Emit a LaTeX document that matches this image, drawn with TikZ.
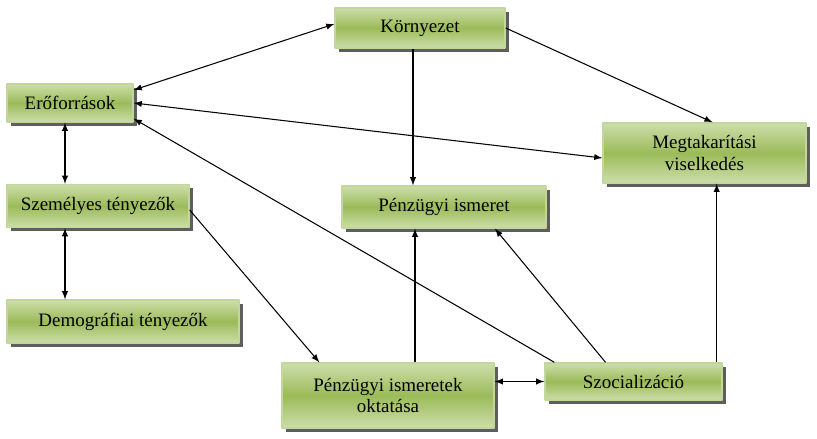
\documentclass[tikz,border=0pt]{standalone}
\usepackage{fontspec}
\setmainfont{Liberation Serif}
\usetikzlibrary{shadows}
\definecolor{boxlight}{RGB}{205,222,170}
\definecolor{boxmid}{RGB}{155,187,89}
\definecolor{boxedge}{RGB}{195,214,155}
\tikzset{
  box/.style={draw=boxedge, line width=0.8pt, top color=boxlight, bottom color=boxlight,
    middle color=boxmid, align=center, inner sep=1pt,
    font=\fontsize{10.8}{12.5}\selectfont,
    drop shadow={shadow xshift=2pt, shadow yshift=-2pt, fill=black!70, opacity=0.9}},
  link/.style={line width=0.6pt}
}
\begin{document}
\begin{tikzpicture}[line join=round, >=latex]
\useasboundingbox (0,0) rectangle (16.34,-8.78);

\node[box, minimum width=3.4cm, minimum height=0.8cm] (kor) at (8.4,-0.56) {Környezet};
\node[box, minimum width=2.52cm, minimum height=0.76cm] (ero) at (1.4,-2.06) {Erőforrások};
\node[box, minimum width=3.64cm, minimum height=0.86cm] (sze) at (1.96,-4.12) {Személyes tényezők};
\node[box, minimum width=4.64cm, minimum height=0.86cm] (dem) at (2.46,-6.43) {Demográfiai tényezők};
\node[box, minimum width=4.08cm, minimum height=0.84cm] (pi) at (8.88,-4.14) {Pénzügyi ismeret};
\node[box, minimum width=4.06cm, minimum height=1.2cm] (meg) at (14.09,-3.06) {Megtakarítási\\viselkedés};
\node[box, minimum width=4.24cm, minimum height=1.3cm] (okt) at (7.76,-7.91) {Pénzügyi ismeretek\\oktatása};
\node[box, minimum width=3.54cm, minimum height=0.74cm] (szoc) at (12.67,-7.63) {Szocializáció};

\draw[link, <->] ([yshift=0.26cm]ero.east) -- ([yshift=0.08cm]kor.west);
\draw[link, ->] (kor.east) -- ([xshift=0.16cm]meg.north);
\draw[link, ->] ([xshift=-0.14cm]kor.south) -- ([xshift=-0.14cm]kor.south |- pi.north);
\draw[link, <->] (ero.east) -- ([yshift=-0.1cm]meg.west);
\draw[link, ->] ([xshift=0.2cm]szoc.north west) -- ([yshift=0.08cm]ero.south east);
\draw[link, ->] ([xshift=-0.56cm]szoc.north) -- ([xshift=1.02cm]pi.south);
\draw[link, ->] ([xshift=-0.12cm]szoc.north east) -- ([xshift=-0.12cm]szoc.north east |- meg.south);
\draw[link, ->] ([xshift=0.54cm]okt.north) -- ([xshift=0.54cm]okt.north |- pi.south);
\draw[link, ->] ([yshift=-0.08cm]sze.east) -- ([xshift=0.76cm]okt.north west);
\draw[link, <->] ([xshift=-0.1cm]ero.south) -- ([xshift=-0.1cm]ero.south |- sze.north);
\draw[link, <->] ([xshift=-0.66cm]sze.south) -- ([xshift=-0.66cm]sze.south |- dem.north);
\draw[link, <->] (szoc.west -| okt.east) -- (szoc.west);
\end{tikzpicture}
\end{document}
